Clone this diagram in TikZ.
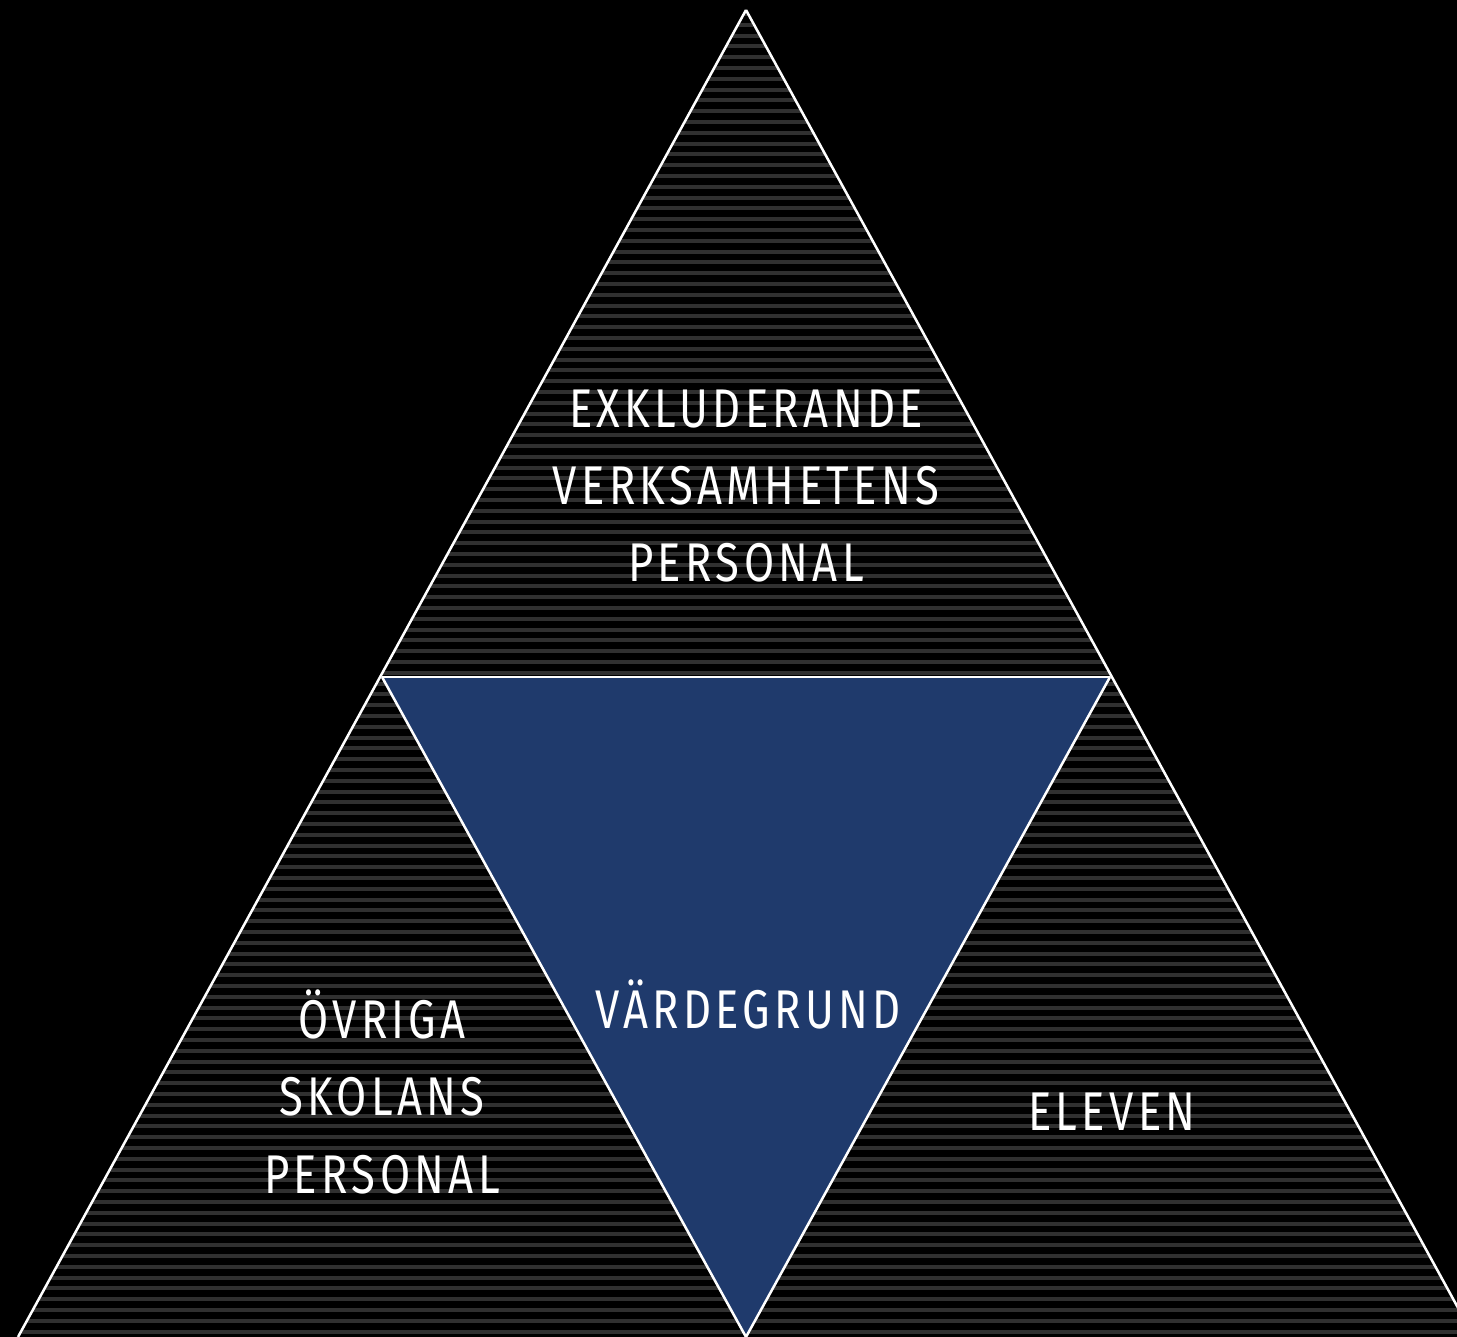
\documentclass[tikz,border=0pt]{standalone}
\usepackage{fontspec}
\setmainfont{Fira Sans}[FakeStretch=0.80,LetterSpace=8]
\definecolor{bluefill}{RGB}{31,58,108}
\definecolor{stripe}{RGB}{48,48,48}
\begin{document}
\begin{tikzpicture}[x=0.01cm,y=-0.01cm,
  edge/.style={draw=white,line width=0.025cm,line join=miter},
  label/.style={text=white,align=center,font=\fontsize{15.5}{21.9}\selectfont,inner sep=0pt,anchor=base}]
\fill[black] (0,0) rectangle (1457,1337);
\useasboundingbox (0,0) rectangle (1457,1337);
\coordinate (A) at (746,10);
\coordinate (BL) at (18,1337);
\coordinate (BR) at (1474,1337);
\coordinate (ML) at (382,677);
\coordinate (MR) at (1110,677);
\coordinate (BM) at (746,1337);
\begin{scope}
\clip (A) -- (BL) -- (BR) -- cycle;
\foreach \k in {-8,...,124} {
  \draw[stripe,line width=0.04cm] (0,{1256-\k*10.8}) -- (1457,{1256-\k*10.8});
}
\end{scope}
\fill[bluefill] (ML) -- (MR) -- (BM) -- cycle;
\draw[edge] (A) -- (BL);
\draw[edge] (A) -- (BR);
\draw[edge] (ML) -- (MR);
\draw[edge] (ML) -- (BM) -- (MR);
\node[label] (top) at (746,582) {EXKLUDERANDE\\VERKSAMHETENS\\PERSONAL};
\node[label] (mid) at (748,1028) {VÄRDEGRUND};
\node[label] (left) at (382,1193) {ÖVRIGA\\SKOLANS\\PERSONAL};
\node[label] (right) at (1112,1130) {ELEVEN};
\end{tikzpicture}
\end{document}
